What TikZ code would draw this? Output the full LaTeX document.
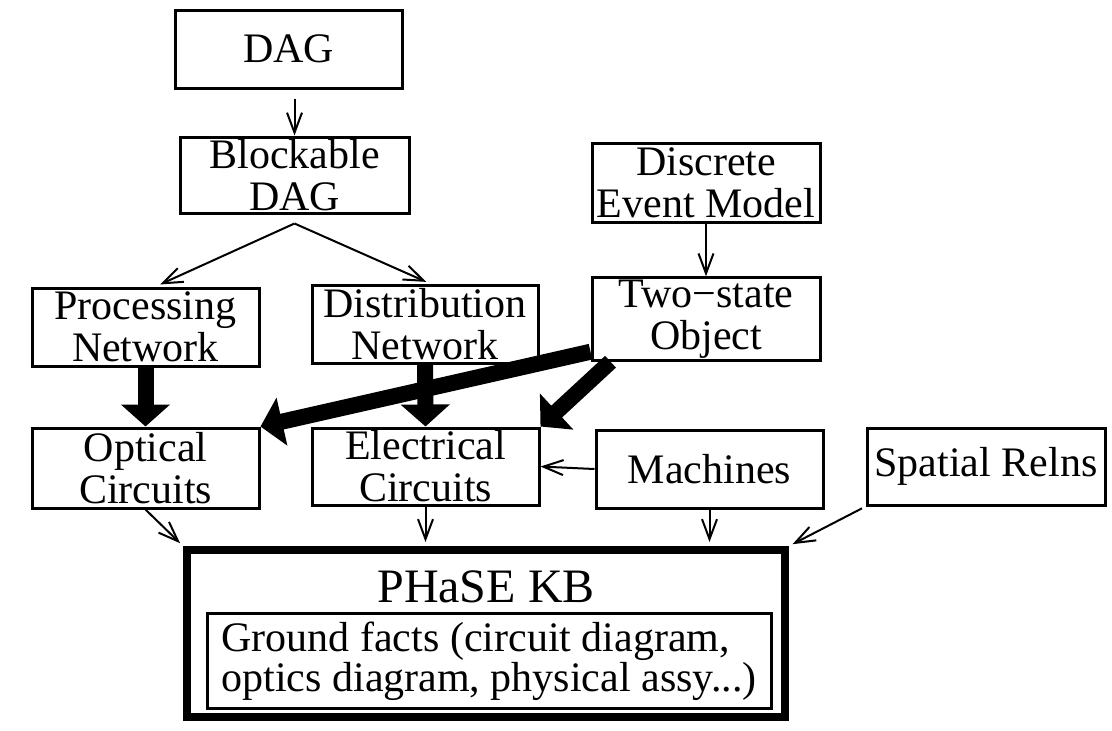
\documentclass[tikz,border=0pt]{standalone}
\usepackage{fontspec}
\setmainfont{Liberation Serif}
\usetikzlibrary{arrows.meta,calc}

\begin{document}
\begin{tikzpicture}[x=0.5pt,y=-0.5pt,
  box/.style={draw, line width=1.5pt, minimum width=113.5pt, minimum height=39pt, inner sep=1pt, align=center, font=\fontsize{21}{21}\selectfont},
  kb/.style={draw, line width=4pt, minimum width=299pt, minimum height=83.5pt, inner sep=0pt},
  facts/.style={draw, line width=1.5pt, minimum width=282pt, minimum height=44pt, inner sep=4pt, align=left, font=\fontsize{21}{20}\selectfont},
  link/.style={line width=1pt, -{Straight Barb[length=10pt,width=7.5pt,line width=1pt]}},
  heavy/.style={line width=8pt, -{Triangle[length=11pt,width=24pt]}}
]
  \useasboundingbox (0,0) rectangle (1112,730);

  \node[box] (dag) at (288.5,49) {DAG};
  \node[box, minimum width=114.5pt, minimum height=38pt] (blk) at (294.5,175) {Blockable\\DAG};
  \node[box, minimum width=114pt, minimum height=39.5pt] (dem) at (706,182.5) {Discrete\\Event Model};

  \node[box] (proc) at (145.5,327) {Processing\\Network};
  \node[box, minimum width=113pt] (dist) at (425,324) {Distribution\\Network};
  \node[box, minimum width=114pt] (two) at (706,319) {Two−state\\Object};

  \node[box, minimum height=40pt] (opt) at (145.5,468) {Optical\\Circuits};
  \node[box, minimum height=38.5pt] (elec) at (425.5,466.5) {Electrical\\Circuits};
  \node[box] (mach) at (709.5,469) {Machines};
  \node[box, minimum width=119pt, minimum height=38.5pt] (sp) at (986,466.5) {Spatial Relns};

  \node[kb] (kb) at (486,633.5) {};
  \node[font=\fontsize{24}{24}\selectfont, inner sep=0pt, anchor=base] (kbtitle) at (486,602) {PHaSE KB};
  \node[facts] (gf) at (489,661) {Ground facts (circuit diagram,\\optics diagram, physical assy...)};

  \coordinate (fork) at ($(blk.south)+(0,9)$);
  \draw[link, shorten <=4.5pt] (dag.south -| blk.north) -- (blk.north);
  \draw[link, shorten >=2.5pt] (fork) -- ($(proc.north)+(10,0)$);
  \draw[link, shorten >=2pt] (fork) -- ($(dist.north)+(5,0)$);
  \draw[link] (dem.south) -- (two.north);

  \draw[heavy] (proc.south) -- (opt.north);
  \draw[heavy] (dist.south) -- (elec.north);
  \draw[heavy] ($(two.south west)+(0,-10)$) -- (opt.north east);
  \draw[heavy] ($(two.south west)+(20,0)$) -- (elec.north east);

  \draw[link] (mach.west) -- (elec.east);
  \draw[link, shorten >=2pt] (opt.south) -- (kb.north west);
  \draw[link, shorten >=2pt] (elec.south) -- (elec.south |- kb.north);
  \draw[link, shorten >=2pt] (mach.south) -- (mach.south |- kb.north);
  \draw[link, shorten <=2pt, shorten >=2pt] (sp.south west) -- (kb.north east);
\end{tikzpicture}
\end{document}
